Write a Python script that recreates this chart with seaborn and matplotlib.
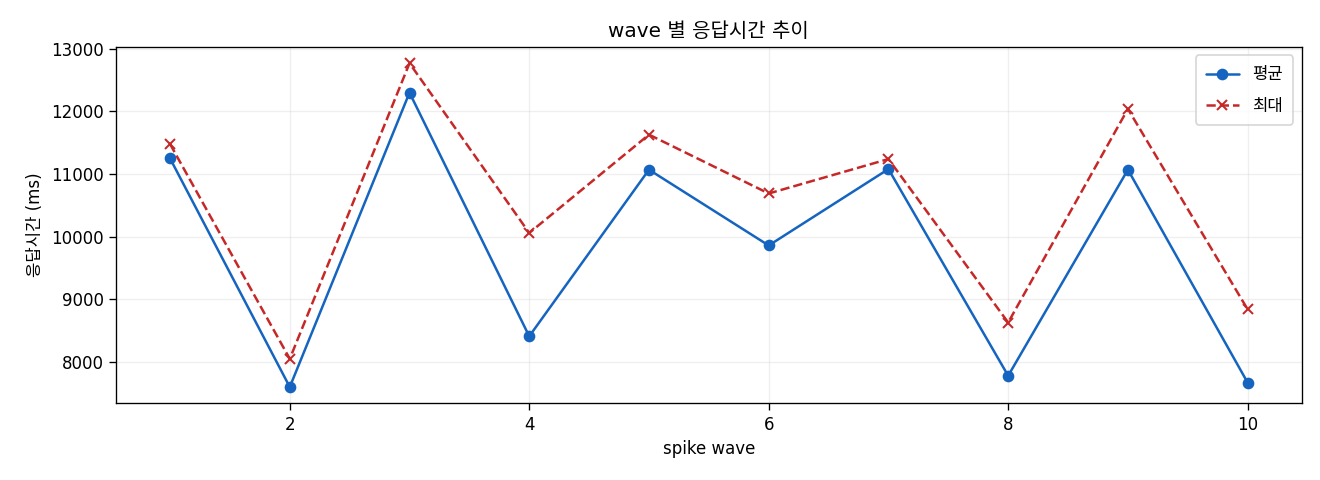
import pandas as pd
import seaborn as sns
import matplotlib
matplotlib.use("Agg")
import matplotlib.pyplot as plt

# response time per spike wave (ms)
waves = [1, 2, 3, 4, 5, 6, 7, 8, 9, 10]
avg_ms = [11250, 7600, 12300, 8410, 11070, 9860, 11080, 7780, 11070, 7670]
max_ms = [11480, 8050, 12770, 10060, 11630, 10690, 11240, 8630, 12040, 8840]

df = pd.DataFrame({"wave": waves, "avg": avg_ms, "max": max_ms})

sns.set_style("white")
plt.rcParams['font.family'] = ['DejaVu Sans', 'Noto Sans CJK KR']
plt.rcParams['axes.unicode_minus'] = False
plt.rcParams['text.color'] = 'black'
plt.rcParams['axes.labelcolor'] = 'black'
plt.rcParams['xtick.color'] = 'black'
plt.rcParams['ytick.color'] = 'black'

fig, ax = plt.subplots(figsize=(11, 4), dpi=120)
sns.lineplot(data=df, x="wave", y="avg", ax=ax, color="#1565c0",
             marker="o", markersize=6, markeredgewidth=1,
             markeredgecolor="#1565c0", linewidth=1.5, label="평균")
sns.lineplot(data=df, x="wave", y="max", ax=ax, color="#c62828",
             marker="x", markersize=6, markeredgewidth=1.2,
             markeredgecolor="#c62828", linestyle="--", linewidth=1.5,
             label="최대")

ax.set_title("wave 별 응답시간 추이")
ax.set_xlabel("spike wave")
ax.set_ylabel("응답시간 (ms)")
ax.grid(True, alpha=0.3)
for s in ax.spines.values():
    s.set_color("black")
ax.tick_params(axis="both", length=4, color="black", left=True, bottom=True)
ax.legend(loc="upper right", labelspacing=0.8, borderpad=0.6)

fig.subplots_adjust(left=0.088, right=0.986, top=0.902, bottom=0.16)
plt.savefig("out.png")
